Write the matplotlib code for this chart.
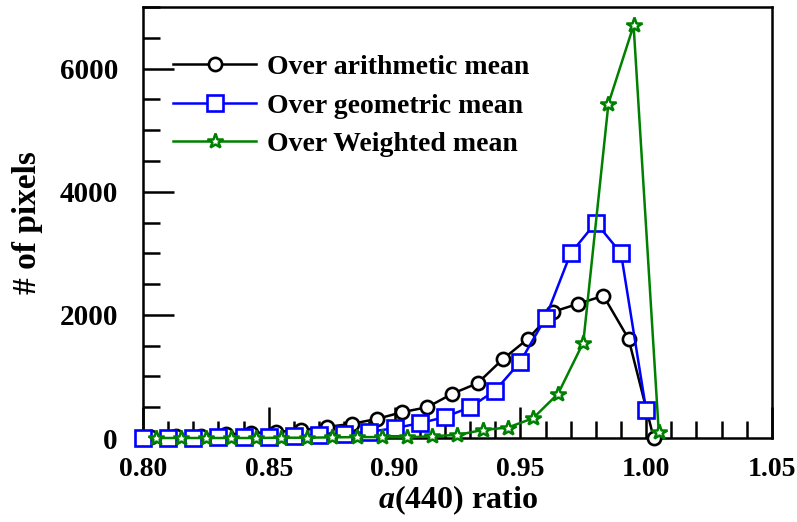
import matplotlib
matplotlib.use("Agg")
import matplotlib.pyplot as plt
import numpy as np
from matplotlib.ticker import MultipleLocator

plt.rcParams['font.family'] = ['Liberation Serif', 'DejaVu Serif']
plt.rcParams['font.weight'] = 'bold'
plt.rcParams['mathtext.fontset'] = 'custom'
plt.rcParams['mathtext.it'] = 'Liberation Serif:italic:bold'
plt.rcParams['mathtext.rm'] = 'Liberation Serif:bold'

# ---- data ----
x_arith = [0.803, 0.813, 0.823, 0.833, 0.843, 0.853, 0.863, 0.873, 0.883, 0.893, 0.903,
           0.913, 0.923, 0.933, 0.943, 0.953, 0.963, 0.973, 0.983, 0.993, 1.003]
y_arith = [20, 30, 40, 60, 80, 100, 130, 180, 230, 310, 420,
           500, 720, 890, 1280, 1610, 2050, 2180, 2310, 1610, 0]

x_geom = [0.80, 0.81, 0.82, 0.83, 0.84, 0.85, 0.86, 0.87, 0.88, 0.89, 0.90,
          0.91, 0.92, 0.93, 0.94, 0.95, 0.96, 0.97, 0.98, 0.99, 1.00]
y_geom = [0, 0, 0, 10, 10, 20, 30, 50, 70, 100, 160,
          240, 340, 500, 770, 1240, 1950, 3000, 3500, 3000, 450]

x_weight = [0.805, 0.815, 0.825, 0.835, 0.845, 0.855, 0.865, 0.875, 0.885, 0.895, 0.905,
            0.915, 0.925, 0.935, 0.945, 0.955, 0.965, 0.975, 0.985, 0.995, 1.005]
y_weight = [0, 0, 0, 0, 0, 5, 5, 10, 15, 15, 10,
            30, 50, 130, 170, 320, 720, 1550, 5430, 6700, 100]

labels = ["Over arithmetic mean", "Over geometric mean", "Over Weighted mean"]
# -----------------------------------

fig = plt.figure(figsize=(7.97, 5.22), dpi=100)
ax = fig.add_axes([0.1794, 0.1609, 0.9686 - 0.1794, 0.9866 - 0.1609])

ax.plot(x_arith, y_arith, color='black', lw=1.8, marker='o', ms=9.5,
        mfc='white', mec='black', mew=1.9, label=labels[0], clip_on=False, zorder=3)
ax.plot(x_geom, y_geom, color='#0000ff', lw=1.8, marker='s', ms=12,
        mfc='white', mec='#0000ff', mew=1.9, label=labels[1], clip_on=False, zorder=4)
ax.plot(x_weight, y_weight, color='#008000', lw=1.8, marker='*', ms=11.5,
        mfc='white', mec='#008000', mew=1.8, label=labels[2], clip_on=False, zorder=5)

ax.set_xlim(0.80, 1.05)
ax.set_ylim(0, 7000)
ax.set_xticks([0.80, 0.85, 0.90, 0.95, 1.00, 1.05])
ax.set_xticklabels(["0.80", "0.85", "0.90", "0.95", "1.00", "1.05"])
ax.set_yticks([0, 2000, 4000, 6000])
ax.xaxis.set_minor_locator(MultipleLocator(0.01))
ax.yaxis.set_minor_locator(MultipleLocator(500))

ax.tick_params(which='both', direction='in', width=1.8, top=False, right=False)
ax.tick_params(which='major', length=22, labelsize=20)
ax.tick_params(axis='x', which='major', pad=14)
ax.tick_params(axis='y', which='major', pad=18, labelsize=21)
ax.tick_params(which='minor', length=12)
for s in ax.spines.values():
    s.set_linewidth(1.8)

ax.set_xlabel(r"$a$(440) ratio", fontsize=23, fontweight='bold', labelpad=1)
ax.set_ylabel("# of pixels", fontsize=24, fontweight='bold', labelpad=12)

leg = ax.legend(loc='upper left', bbox_to_anchor=(0.03, 0.915), frameon=False,
                fontsize=20, handlelength=3.0, handletextpad=0.4,
                labelspacing=0.47, numpoints=1, borderaxespad=0)
for h in leg.legend_handles:
    h.set_linewidth(1.8)

fig.savefig("out.png", dpi=100)
